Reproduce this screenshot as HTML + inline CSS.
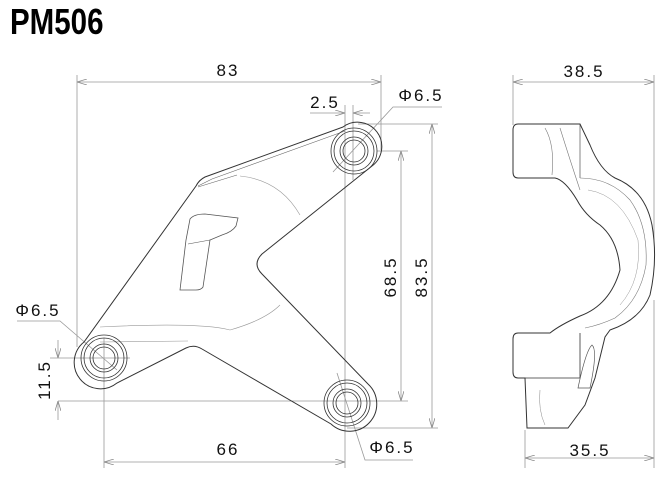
<!DOCTYPE html>
<html><head><meta charset="utf-8"><style>
html,body{margin:0;padding:0;background:#fff;}
svg{display:block;}
text{font-family:"Liberation Sans",sans-serif;fill:#111;}
</style></head><body>
<svg width="672" height="487" viewBox="0 0 672 487" xmlns="http://www.w3.org/2000/svg">
<defs>
<marker id="a" markerWidth="10" markerHeight="6" refX="10" refY="3" orient="auto-start-reverse" markerUnits="userSpaceOnUse"><path d="M0,0 L10,3 L0,6" fill="none" stroke="#888" stroke-width="0.8"/></marker>
</defs>
<text x="10" y="34" font-size="36" font-weight="bold" transform="translate(10 0) scale(0.82 1) translate(-10 0)" style="fill:#000">PM506</text>

<g stroke="#999" stroke-width="0.8" fill="none">
<line x1="77" y1="75" x2="77" y2="347"/>
<line x1="381" y1="75" x2="381" y2="150"/>
<line x1="77" y1="82" x2="381" y2="82" marker-start="url(#a)" marker-end="url(#a)"/>
<line x1="345" y1="105" x2="345" y2="468"/>
<line x1="353" y1="105" x2="353" y2="180"/>
<line x1="310" y1="113" x2="345" y2="113" marker-end="url(#a)"/>
<line x1="370" y1="113" x2="353" y2="113" marker-end="url(#a)"/>
<polyline points="333,172 393,107 442,107"/>
<line x1="358" y1="124" x2="438" y2="124"/>
<line x1="377" y1="151" x2="408" y2="151"/>
<line x1="401" y1="151" x2="401" y2="401" marker-start="url(#a)" marker-end="url(#a)"/>
<line x1="432" y1="124" x2="432" y2="428" marker-start="url(#a)" marker-end="url(#a)"/>
<line x1="58" y1="401" x2="408" y2="401"/>
<line x1="347" y1="428" x2="438" y2="428"/>
<line x1="50" y1="358" x2="130" y2="358"/>
<line x1="58" y1="340" x2="58" y2="358" marker-end="url(#a)"/>
<line x1="58" y1="420" x2="58" y2="401" marker-end="url(#a)"/>
<polyline points="17,321 60,321 117,370"/>
<line x1="104" y1="338" x2="104" y2="468"/>
<line x1="104" y1="462" x2="345" y2="462" marker-start="url(#a)" marker-end="url(#a)"/>
<polyline points="337,373 365,460 413,460"/>
<line x1="513" y1="75" x2="513" y2="125"/>
<line x1="654" y1="75" x2="654" y2="240"/>
<line x1="513" y1="82" x2="654" y2="82" marker-start="url(#a)" marker-end="url(#a)"/>
<line x1="525" y1="430" x2="525" y2="468"/>
<line x1="654" y1="300" x2="654" y2="468"/>
<line x1="525" y1="458" x2="654" y2="458" marker-start="url(#a)" marker-end="url(#a)"/>
</g>

<g stroke="#333" stroke-width="1" fill="none">
<path d="M343,127 L205,177 Q199,180 196,186 L84,342 A24,24 0 0 0 117,383 L186,348 Q194,344 202,349 L331,424 A23,23 0 0 0 368,384 L262,274 Q252,264 262,254 L372,166 A24,24 0 0 0 343,127 Z"/>
<path d="M345,131 L212,179 L198,186" stroke="#666" stroke-width="0.6"/>
<path d="M198,187 L237,175" stroke="#666" stroke-width="0.6"/>
<path d="M240,176 Q280,180 300,215" stroke="#999" stroke-width="0.6"/>
<path d="M100,327 Q200,322 230,330 Q265,320 280,305" stroke="#999" stroke-width="0.6"/>
<path d="M100,342 L188,341" stroke="#999" stroke-width="0.6"/>
<path d="M190,219 Q194,214 205,214 L238,218 L236,226 Q232,232 222,235 L210,240 L203,287 Q201,290 196,290 L180,290 L186,240 Z" stroke="#555" stroke-width="0.8"/>
<path d="M188,244 L210,240" stroke="#555" stroke-width="0.6"/>
<g stroke-width="0.8">
<circle cx="354" cy="151" r="23"/><circle cx="354" cy="151" r="20"/><circle cx="354" cy="151" r="14"/><circle cx="354" cy="151" r="11"/>
<circle cx="104" cy="358" r="23"/><circle cx="104" cy="358" r="20"/><circle cx="104" cy="358" r="14"/><circle cx="104" cy="358" r="11"/>
<circle cx="347" cy="403" r="23"/><circle cx="347" cy="403" r="20"/><circle cx="347" cy="403" r="14"/><circle cx="347" cy="403" r="11"/>
</g>
</g>

<g stroke="#333" stroke-width="1" fill="none">
<path d="M518,124 L580,124 L590,145 Q600,170 615,178 Q645,190 652,225 Q658,260 650,295 Q640,320 610,330 L605,337 L595,378 L585,405 L568,428 L527,428 L525,378 L518,378 Q513,378 513,372 L513,339 Q513,333 518,333 L550,333 Q560,325 580,316 Q610,305 620,270 Q618,240 600,225 Q585,215 577,200 Q565,180 555,178 L518,178 Q513,178 513,172 L513,130 Q513,124 518,124 Z"/>
<path d="M580,178 L580,124" stroke-width="0.6"/>
<path d="M580,333 L580,378 L525,378" stroke-width="0.8"/>
<path d="M545,128 Q555,145 552,175 M560,128 Q570,160 580,190" stroke="#777" stroke-width="0.6"/>
<path d="M580,178 Q610,178 630,200 Q648,225 646,265 Q640,300 615,318 Q600,325 585,328" stroke="#777" stroke-width="0.6"/>
<path d="M588,190 Q622,195 638,240 Q642,280 620,305" stroke="#999" stroke-width="0.5"/>
<path d="M578,388 Q586,350 592,345 Q598,350 590,388 Z" stroke="#555" stroke-width="0.7"/>
<path d="M540,390 Q538,410 545,425" stroke="#888" stroke-width="0.5"/>
</g>

<g font-size="17" letter-spacing="2">
<text x="228" y="76" text-anchor="middle">83</text>
<text x="325" y="108" text-anchor="middle">2.5</text>
<text x="421" y="101" text-anchor="middle">Φ6.5</text>
<text x="38" y="316" text-anchor="middle">Φ6.5</text>
<text x="228" y="455" text-anchor="middle">66</text>
<text x="392" y="453" text-anchor="middle">Φ6.5</text>
<text x="584" y="77" text-anchor="middle">38.5</text>
<text x="590" y="456" text-anchor="middle">35.5</text>
<text transform="translate(396 277) rotate(-90)" text-anchor="middle">68.5</text>
<text transform="translate(427 277) rotate(-90)" text-anchor="middle">83.5</text>
<text transform="translate(50 380) rotate(-90)" text-anchor="middle">11.5</text>
</g>
</svg>
</body></html>
